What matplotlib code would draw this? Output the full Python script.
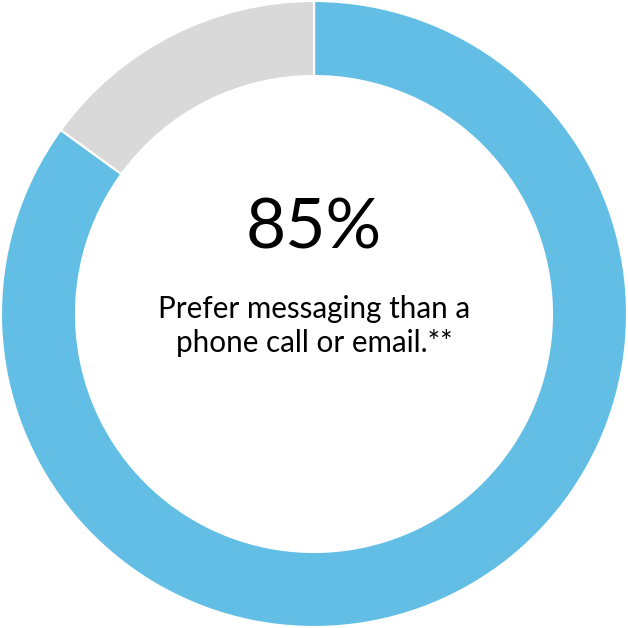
import matplotlib.pyplot as plt

labels = ["Prefer messaging", "Other"]
values = [85, 15]
colors = ["#62BEE4", "#D9D9D9"]
big_label = "85%"
caption = ["Prefer messaging than a", "phone call or email.**"]

plt.rcParams["font.family"] = ["Lato", "DejaVu Sans"]

fig = plt.figure(figsize=(6.28, 6.28), dpi=100)
ax = fig.add_axes([0, 0, 1, 1])
ax.pie(values, colors=colors, startangle=90, counterclock=False,
       wedgeprops=dict(width=0.24, edgecolor="white", linewidth=1.6))
ax.set_xlim(-1.003, 1.003)
ax.set_ylim(-1.003, 1.003)
ax.set_aspect("equal")
ax.axis("off")

ax.text(0, 0.21, big_label, ha="center", va="baseline", fontsize=50, color="black")
ax.text(0, -0.013, caption[0], ha="center", va="baseline", fontsize=21.3, color="black")
ax.text(0, -0.121, caption[1], ha="center", va="baseline", fontsize=21.3, color="black")

fig.savefig("out.png", dpi=100)
